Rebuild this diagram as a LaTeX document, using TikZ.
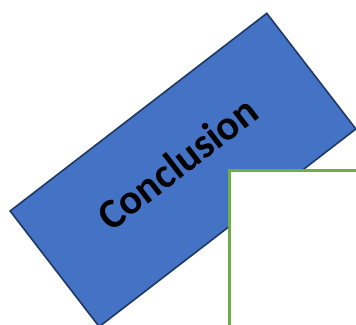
\documentclass[tikz,border=0pt]{standalone}
\usepackage{fontspec}
\newfontfamily\calibfont{Carlito}
\definecolor{boxblue}{RGB}{68,114,196}
\definecolor{boxedge}{RGB}{31,56,100}
\definecolor{panelgreen}{RGB}{112,173,71}
\tikzset{
  titlebox/.style={draw=boxedge,fill=boxblue,line width=1.6pt,rectangle,inner sep=0pt,
    minimum width=324pt,minimum height=146pt},
  titletext/.style={inner sep=0pt,font=\calibfont\bfseries\fontsize{42}{48}\selectfont},
  panel/.style={draw=panelgreen,fill=white,line width=2.6pt,rectangle,inner sep=0pt,
    minimum width=220pt,minimum height=220pt},
}
\begin{document}
\begin{tikzpicture}[x=1pt,y=1pt]
  \useasboundingbox (0,0) rectangle (356,-324);
  \clip (0,0) rectangle (356,-324);
  \node[titlebox,rotate=37.6] (concl) at (183,-170) {};
  \node[titletext,rotate=37.6] (concllabel) at (177.5,-163) {Conclusion};
  \node[panel,anchor=north west] (side) at (228,-169) {};
\end{tikzpicture}
\end{document}
